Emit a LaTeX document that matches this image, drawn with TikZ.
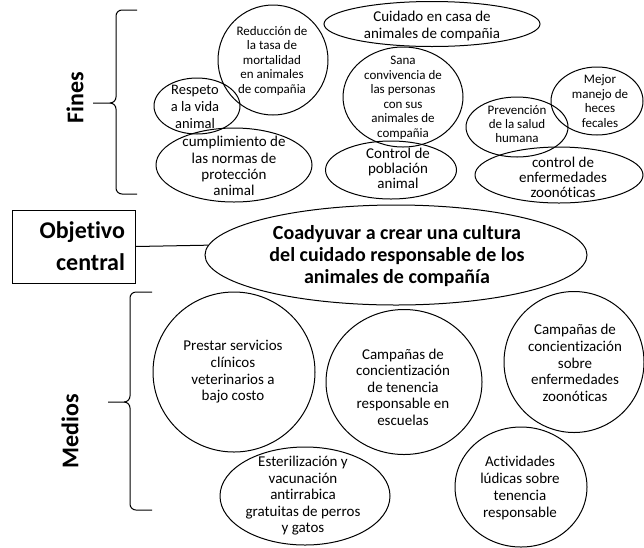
\documentclass[tikz,border=0pt]{standalone}
\usepackage{fontspec}
\setmainfont{Carlito}[Ligatures=NoCommon]
\usetikzlibrary{shapes.geometric}

\tikzset{
  globo/.style={draw, ellipse, line width=1pt, inner sep=0pt},
  chico/.style={align=center, inner sep=0pt, font=\fontsize{13}{14.5}\selectfont},
  medio/.style={align=center, inner sep=0pt, font=\fontsize{15}{16.5}\selectfont},
  titulo/.style={font=\bfseries\fontsize{24}{32}\selectfont, inner sep=0pt},
  llave/.style={line width=1pt}
}

\begin{document}
\begin{tikzpicture}[x=1pt,y=-1pt]
	\useasboundingbox (0,0) rectangle (644,547);
	% fines
	\draw[llave] (137,10)--(122,10) to[out=180,in=90] (116,16)--(116,97) to[out=-90,in=0] (110,103)--(93,103);
	\draw[llave] (110,103) to[out=0,in=90] (116,109)--(116,188) to[out=-90,in=180] (122,194)--(137,194);
	\node[titulo, rotate=90] (fines) at (75,98) {Fines};
	\node[globo, minimum width=110pt, minimum height=110pt] (reduccion) at (273,60) {};
	\node[chico] (reduccion-t) at (272,61) {Reducción de\\la tasa de\\mortalidad\\en animales\\de compañia};
	\node[globo, minimum width=86pt, minimum height=56pt] (respeto) at (197,106) {};
	\node[medio, font=\fontsize{14.5}{17}\selectfont] (respeto-t) at (195,107) {Respeto\\a la vida\\animal};
	\node[globo, minimum width=156pt, minimum height=74pt] (cumplimiento) at (234,165) {};
	\node[medio, font=\fontsize{15}{16.3}\selectfont] (cumplimiento-t) at (234,166) {cumplimiento de\\las normas de\\protección\\animal};
	\node[globo, minimum width=216pt, minimum height=45pt] (cuidado) at (432,24) {};
	\node[medio, font=\fontsize{15}{17}\selectfont] (cuidado-t) at (432,26) {Cuidado en casa de\\animales de compañia};
	\node[globo, minimum width=120pt, minimum height=100pt] (sana) at (403,97) {};
	\node[chico] (sana-t) at (403,98) {Sana\\convivencia de\\las personas\\con sus\\animales de\\compañia};
	\node[globo, minimum width=131pt, minimum height=58pt] (poblacion) at (391,170) {};
	\node[medio, font=\fontsize{15}{15}\selectfont] (poblacion-t) at (398,168) {Control de\\población\\animal};
	\node[globo, minimum width=102pt, minimum height=60pt] (prevencion) at (517,127) {};
	\node[chico, font=\fontsize{13}{14}\selectfont] (prevencion-t) at (517,124) {Prevención\\de la salud\\humana};
	\node[globo, minimum width=92pt, minimum height=68pt] (mejor) at (597,101) {};
	\node[chico] (mejor-t) at (600,101) {Mejor\\manejo de\\heces\\fecales};
	\node[globo, minimum width=168pt, minimum height=56pt] (enfermedades) at (559,175) {};
	\node[medio, font=\fontsize{15}{15}\selectfont] (enfermedades-t) at (563,177) {control de\\enfermedades\\zoonóticas};
	% objetivo central
	\node[draw, line width=1pt, minimum width=123pt, minimum height=73pt, text width=103pt, inner xsep=10pt, align=right, font=\bfseries\fontsize{24}{32}\selectfont] (obj) at (73.5,246.5) {Objetivo\\central};
	\node[globo, minimum width=382pt, minimum height=100pt] (central) at (396,255) {};
	\node[align=center, inner sep=0pt, font=\bfseries\fontsize{20}{22}\selectfont] (central-t) at (397,256) {Coadyuvar a crear una cultura\\del cuidado responsable de los\\animales de compañía};
	\draw[line width=1pt] (obj.east) -- (central.177);
	% medios
	\draw[llave] (152,292)--(136,292) to[out=180,in=90] (130,298)--(130,396) to[out=-90,in=0] (124,402)--(108,402);
	\draw[llave] (124,402) to[out=0,in=90] (130,408)--(130,504) to[out=-90,in=180] (136,510)--(152,510);
	\node[titulo, rotate=90] (medios) at (70,431) {Medios};
	\node[globo, minimum width=162pt, minimum height=160pt] (prestar) at (234,372) {};
	\node[medio, font=\fontsize{15}{16.7}\selectfont] (prestar-t) at (233,372) {Prestar servicios\\clínicos\\veterinarios a\\bajo costo};
	\node[globo, minimum width=156pt, minimum height=145pt] (tenencia) at (404,382) {};
	\node[medio] (tenencia-t) at (403,387) {Campañas de\\concientización\\de tenencia\\responsable en\\escuelas};
	\node[globo, minimum width=140pt, minimum height=141pt] (zoonoticas) at (574,362) {};
	\node[medio, font=\fontsize{15}{16.7}\selectfont] (zoonoticas-t) at (575,363) {Campañas de\\concientización\\sobre\\enfermedades\\zoonóticas};
	\node[globo, minimum width=170pt, minimum height=98pt] (esterilizacion) at (305,496) {};
	\node[medio] (esterilizacion-t) at (303,496) {Esterilización y\\vacunación\\antirrabica\\gratuitas de perros\\y gatos};
	\node[globo, minimum width=132pt, minimum height=120pt] (actividades) at (521,487) {};
	\node[medio, font=\fontsize{15}{16.7}\selectfont] (actividades-t) at (520,488) {Actividades\\lúdicas sobre\\tenencia\\responsable};
\end{tikzpicture}
\end{document}
